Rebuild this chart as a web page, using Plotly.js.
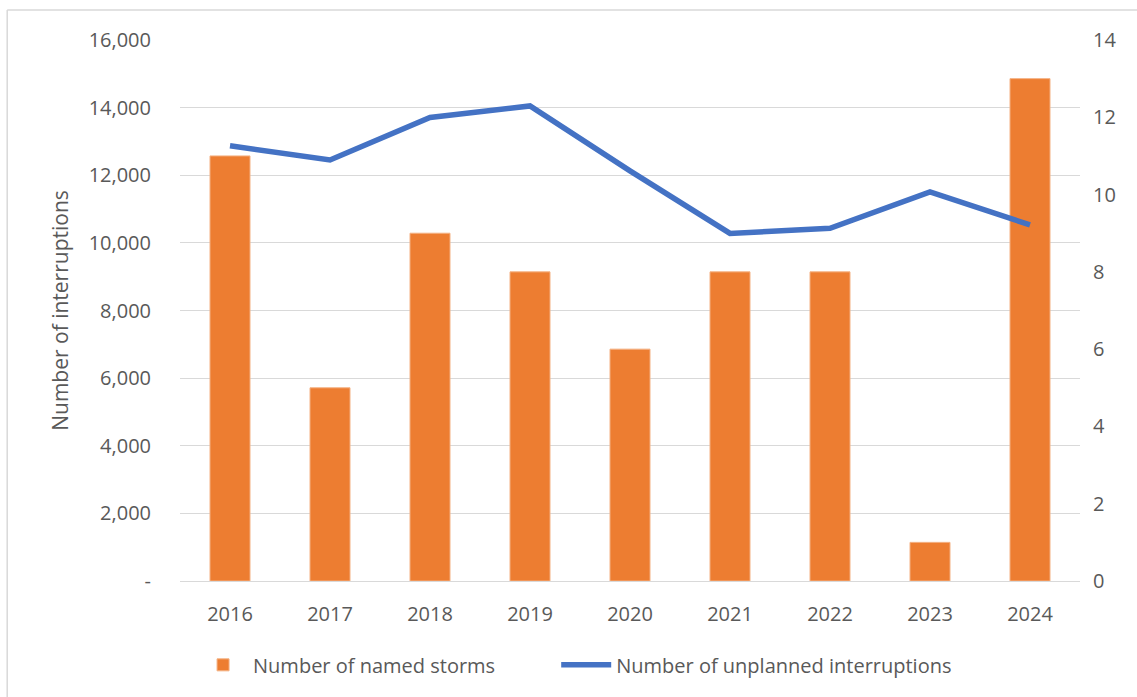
<!DOCTYPE html>
<html>
<head>
<meta charset="utf-8">
<script src="https://cdn.plot.ly/plotly-3.0.1.min.js"></script>
<style>
html,body{margin:0;padding:0;background:#fff;}
#chart{width:1137px;height:697px;}
</style>
</head>
<body>
<div id="chart"></div>
<script>
const years = ['2016','2017','2018','2019','2020','2021','2022','2023','2024'];
const namedStorms = [11, 5, 9, 8, 6, 8, 8, 1, 13];
const unplannedInterruptions = [12870, 12450, 13710, 14050, 12130, 10280, 10430, 11510, 10530];
const leftTickVals = [0, 2000, 4000, 6000, 8000, 10000, 12000, 14000, 16000];
const leftTickText = ['-', '2,000', '4,000', '6,000', '8,000', '10,000', '12,000', '14,000', '16,000'];
const rightTickVals = [0, 2, 4, 6, 8, 10, 12, 14];

const FONT = 'Open Sans, Noto Sans, Liberation Sans, sans-serif';
const GREY = '#595959';

const traces = [
  {
    type: 'bar',
    name: 'Number of named storms',
    x: years,
    y: namedStorms,
    yaxis: 'y',
    legend: 'legend',
    marker: {color: '#ED7D31', line: {color: '#F4B183', width: 1}},
    hoverinfo: 'x+y'
  },
  {
    type: 'scatter',
    mode: 'lines',
    name: 'Number of unplanned interruptions',
    x: years,
    y: unplannedInterruptions,
    yaxis: 'y2',
    legend: 'legend2',
    line: {color: '#4472C4', width: 5.5}
  }
];

const legendCommon = {
  orientation: 'h',
  xanchor: 'left',
  y: -0.155, yanchor: 'middle',
  font: {family: FONT, size: 20, color: GREY},
  itemwidth: 50,
  bgcolor: 'rgba(0,0,0,0)'
};

const layout = {
  width: 1137,
  height: 697,
  margin: {l: 180, r: 57, t: 40, b: 116},
  paper_bgcolor: '#ffffff',
  plot_bgcolor: '#ffffff',
  font: {family: FONT, size: 20, color: GREY},
  bargap: 0.6,
  showlegend: true,
  legend: Object.assign({}, legendCommon, {x: 0.0145}),
  legend2: Object.assign({}, legendCommon, {x: 0.418}),
  xaxis: {
    type: 'category',
    showgrid: false,
    showline: true,
    linecolor: '#D9D9D9',
    linewidth: 1,
    ticks: 'outside',
    ticklen: 15,
    tickcolor: 'rgba(0,0,0,0)',
    tickfont: {family: FONT, size: 20, color: GREY},
    zeroline: false
  },
  yaxis: {
    range: [0, 14],
    tickvals: rightTickVals,
    side: 'right',
    showgrid: false,
    zeroline: false,
    showline: false,
    ticks: 'outside',
    ticklen: 8,
    tickcolor: 'rgba(0,0,0,0)',
    tickfont: {family: FONT, size: 20, color: GREY}
  },
  yaxis2: {
    range: [0, 16000],
    overlaying: 'y',
    side: 'left',
    tickvals: leftTickVals,
    ticktext: leftTickText,
    showgrid: true,
    gridcolor: '#D9D9D9',
    gridwidth: 1,
    zeroline: false,
    showline: false,
    ticks: 'outside',
    ticklen: 24,
    tickcolor: 'rgba(0,0,0,0)',
    tickfont: {family: FONT, size: 20, color: GREY},
    title: {text: 'Number of interruptions', font: {family: FONT, size: 21, color: GREY}, standoff: 14}
  },
  shapes: [
    {type: 'line', xref: 'paper', yref: 'paper', x0: -0.192, x1: 1.08, y0: (581 - 10) / 541, y1: (581 - 10) / 541, line: {color: '#D9D9D9', width: 1.5}},
    {type: 'line', xref: 'paper', yref: 'paper', x0: -0.192, x1: -0.192, y0: (581 - 10) / 541, y1: -0.25, line: {color: '#D9D9D9', width: 1.5}}
  ]
};

Plotly.newPlot('chart', traces, layout, {displayModeBar: false, staticPlot: true});
</script>
</body>
</html>
